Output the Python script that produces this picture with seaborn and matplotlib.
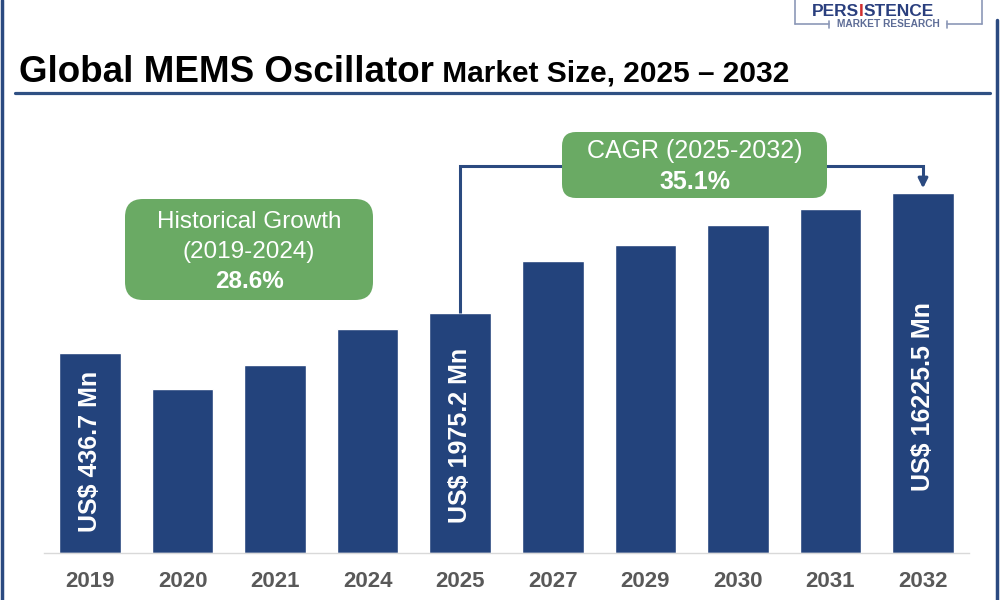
import matplotlib
matplotlib.use("Agg")
import matplotlib.pyplot as plt
from matplotlib.patches import FancyBboxPatch
import seaborn as sns
import pandas as pd

# chart data (bar heights, relative units)
years = ['2019', '2020', '2021', '2024', '2025', '2027', '2029', '2030', '2031', '2032']
bar_heights = [200, 164, 188, 224, 240, 292, 308, 328, 344, 360]
value_labels = {'2019': 'US$ 436.7 Mn', '2025': 'US$ 1975.2 Mn', '2032': 'US$ 16225.5 Mn'}
hist_text = ['Historical Growth', '(2019-2024)', '28.6%']
cagr_text = ['CAGR (2025-2032)', '35.1%']
title_main = 'Global MEMS Oscillator'
title_rest = ' Market Size, 2025 – 2032'

BAR = '#23437C'
NAVY = '#2B4A80'
GREEN = '#6AAA64'

sns.set_style('white')
plt.rcParams['font.family'] = ['Liberation Sans', 'DejaVu Sans']

df = pd.DataFrame({'year': years, 'size': bar_heights})

fig = plt.figure(figsize=(10, 6), dpi=100)
# main axes: 1 y-unit == 1 pixel
ax = fig.add_axes([43.7 / 1000, 1 - 553.3 / 600, 925.6 / 1000, 453.3 / 600])
sns.barplot(data=df, x='year', y='size', color=BAR, saturation=1, width=0.664, ax=ax)
ax.set_ylim(0, 453.3)
ax.set_xlim(-0.5, len(years) - 0.5)
ax.set_xlabel('')
ax.set_ylabel('')
ax.set_yticks([])
for s in ['top', 'left', 'right']:
    ax.spines[s].set_visible(False)
ax.spines['bottom'].set_color('#D9D9D9')
ax.spines['bottom'].set_linewidth(1)
ax.set_xticks([i - 0.5 for i in range(len(years) + 1)], minor=True)
ax.tick_params(axis='x', which='minor', length=6, color='#D9D9D9', width=1, direction='out')
ax.tick_params(axis='x', which='major', length=0, pad=13)
for lab in ax.get_xticklabels():
    lab.set_fontsize(16)
    lab.set_fontweight('bold')
    lab.set_color('#595959')

# rotated value labels inside bars
label_frac = {'2019': 0.51, '2025': 0.49, '2032': 0.436}
for i, yr in enumerate(years):
    if yr in value_labels:
        ax.text(i, bar_heights[i] * label_frac[yr], value_labels[yr], rotation=90,
                ha='center', va='center', color='white', fontsize=18, fontweight='bold')

# CAGR connector
i25, i32 = years.index('2025'), years.index('2032')
yc = 387.6
ax.plot([i25, i25, i32, i32], [bar_heights[i25], yc, yc, 374], color=NAVY, lw=2.2,
        solid_joinstyle='miter', solid_capstyle='butt')
ax.annotate('', xy=(i32, 365), xytext=(i32, 376),
            arrowprops=dict(arrowstyle='-|>', color=NAVY, lw=2.2, mutation_scale=14,
                            shrinkA=0, shrinkB=0))

# overlay in pixel coordinates
ov = fig.add_axes([0, 0, 1, 1])
ov.set_xlim(0, 1000)
ov.set_ylim(600, 0)
ov.axis('off')
ov.patch.set_alpha(0)

# borders
ov.plot([1.5, 1.5], [0, 600], color=NAVY, lw=2.5)
ov.plot([997, 997], [20, 600], color=NAVY, lw=2.5)
# title underline
ov.plot([15, 990], [92.5, 92.5], color='#2F5083', lw=2.3)

# title
r = fig.canvas.get_renderer()
t1 = ov.text(19, 82, title_main, fontsize=26.5, fontweight='bold', color='black', va='baseline')
bb = t1.get_window_extent(r)
ov.text(bb.x1, 82, title_rest, fontsize=21.5, fontweight='bold', color='black', va='baseline')

# historical growth box
ov.add_patch(FancyBboxPatch((125, 199), 248, 101, boxstyle='round,pad=0,rounding_size=18',
                            fc=GREEN, ec='none'))
ov.text(249, 222, hist_text[0], fontsize=17.5, color='white', ha='center', va='center')
ov.text(249, 252, hist_text[1], fontsize=17.5, color='white', ha='center', va='center')
ov.text(249, 282, hist_text[2], fontsize=17.5, color='white', ha='center', va='center',
        fontweight='bold')

# CAGR box
ov.add_patch(FancyBboxPatch((562, 132), 265, 66, boxstyle='round,pad=0,rounding_size=14',
                            fc=GREEN, ec='none'))
ov.text(694.5, 151, cagr_text[0], fontsize=18, color='white', ha='center', va='center')
ov.text(694.5, 182, cagr_text[1], fontsize=18, color='white', ha='center', va='center',
        fontweight='bold')

# logo (kept fully inside the picture)
LOGO = '#2A3F7E'
EDGE = '#8C98B8'
yb = 24
ov.plot([795, 795], [0, yb], color=EDGE, lw=1.2)
ov.plot([982, 982], [0, yb], color=EDGE, lw=1.2)
ov.plot([795, 829], [yb, yb], color=EDGE, lw=1.2)
ov.plot([947, 982], [yb, yb], color=EDGE, lw=1.2)
ov.plot([829, 829], [yb - 3.5, yb + 3.5], color=EDGE, lw=1.2)
ov.plot([947, 947], [yb - 3.5, yb + 3.5], color=EDGE, lw=1.2)
ov.text(888, yb, 'MARKET RESEARCH', fontsize=7.3, fontweight='bold', color='#5D6C96',
        ha='center', va='center')
fs = 12.5
p1 = ov.text(812, 16.5, 'PERS', fontsize=fs, fontweight='bold', color=LOGO, va='baseline')
x = p1.get_window_extent(r).x1
p2 = ov.text(x, 16.5, 'I', fontsize=fs, fontweight='bold', color='#D12E2E', va='baseline')
x = p2.get_window_extent(r).x1
ov.text(x, 16.5, 'STENCE', fontsize=fs, fontweight='bold', color=LOGO, va='baseline')

fig.savefig('out.png', dpi=100, facecolor='white')
